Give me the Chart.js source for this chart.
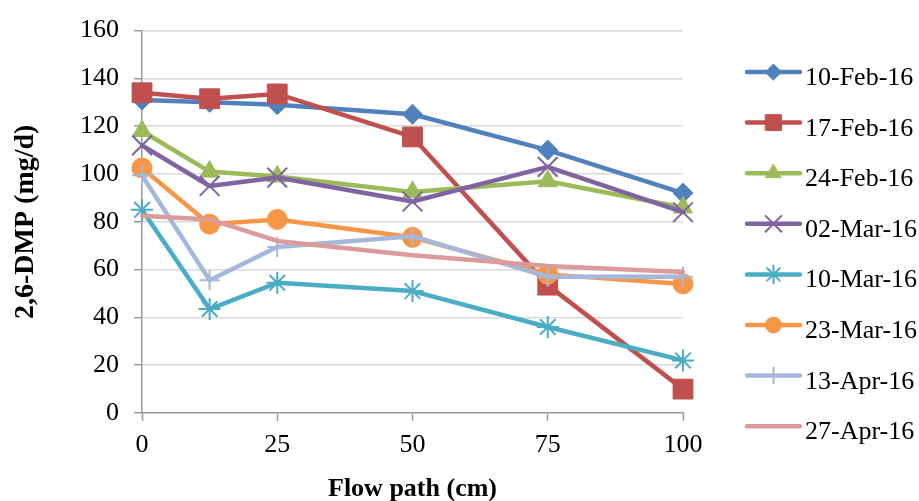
<!DOCTYPE html>
<html>
<head>
<meta charset="utf-8">
<script src="https://cdn.jsdelivr.net/npm/chart.js@4.4.1/dist/chart.umd.min.js"></script>
<style>
  html, body { margin: 0; padding: 0; background: #ffffff; }
  #wrap { width: 919px; height: 501px; position: relative; }
</style>
</head>
<body>
<div id="wrap"><canvas id="c" width="919" height="501"></canvas></div>
<script>
// Sampling positions along the flow path (cm)
const flowPath = [0, 12.5, 25, 50, 75, 100];
const xTicks = [0, 25, 50, 75, 100];

// 2,6-DMP load (mg/d) per sampling date
const dates = ['10-Feb-16', '17-Feb-16', '24-Feb-16', '02-Mar-16',
               '10-Mar-16', '23-Mar-16', '13-Apr-16', '27-Apr-16'];
const feb10 = [131, 130, 129, 125, 110, 92];
const feb17 = [134, 131.5, 133.5, 115.5, 53.5, 10];
const feb24 = [118, 101, 99, 92.5, 97, 86];
const mar02 = [112, 95, 98.5, 88.5, 103, 84];
const mar10 = [85, 43.5, 54.5, 51, 36, 22];
const mar23 = [102.5, 79, 81, 73.5, 58, 54];
const apr13 = [99.5, 55.5, 69.5, 74, 57, 57];
const apr27 = [82.5, 81, 72, 66, 61.5, 59];

const seriesValues = [feb10, feb17, feb24, mar02, mar10, mar23, apr13, apr27];
const colors = ['#4F81BD', '#C0504D', '#9BBB59', '#8064A2',
                '#4BACC6', '#F79646', '#A5B8DB', '#DA9B9A'];
const markers = [
  { style: 'rectRot',  radius: 10, width: 1 },
  { style: 'rect',     radius: 14, width: 1 },
  { style: 'triangle', radius: 11, width: 1 },
  { style: 'crossRot', radius: 14, width: 2 },
  { style: 'star',     radius: 11, width: 2 },
  { style: 'circle',   radius: 10, width: 1 },
  { style: 'cross',    radius: 10, width: 2 },
  { style: 'circle',   radius: 0,  width: 0 }
];

const serif = '"Liberation Serif", "Times New Roman", serif';

const datasets = dates.map((label, i) => ({
  label: label,
  data: flowPath.map((x, j) => ({ x: x, y: seriesValues[i][j] })),
  borderColor: colors[i],
  backgroundColor: colors[i],
  pointBackgroundColor: colors[i],
  pointBorderColor: colors[i],
  pointStyle: markers[i].style,
  pointRadius: markers[i].radius,
  pointHoverRadius: markers[i].radius,
  pointBorderWidth: markers[i].width,
  borderWidth: 4.5,
  borderJoinStyle: 'round',
  borderCapStyle: 'round',
  tension: 0,
  clip: false,
  order: dates.length - i   // later series sit on top
}));

// Legend at the right: line sample with marker, then the date
const sideLegend = {
  id: 'sideLegend',
  afterDraw(chart) {
    const ctx = chart.ctx;
    const x0 = 747, x1 = 800, top = 72, step = 50.6;
    chart.data.datasets.forEach((ds, i) => {
      const y = top + i * step;
      ctx.save();
      ctx.strokeStyle = ds.borderColor;
      ctx.lineWidth = 4.5;
      ctx.lineCap = 'round';
      ctx.beginPath();
      ctx.moveTo(x0, y);
      ctx.lineTo(x1, y);
      ctx.stroke();
      if (ds.pointRadius > 0) {
        ctx.fillStyle = ds.pointBackgroundColor;
        ctx.strokeStyle = ds.pointBorderColor;
        ctx.lineWidth = ds.pointBorderWidth;
        Chart.helpers.drawPoint(ctx, {
          pointStyle: ds.pointStyle,
          radius: ds.pointRadius * 0.8,
          borderWidth: ds.pointBorderWidth,
          rotation: 0
        }, (x0 + x1) / 2, y);
      }
      ctx.fillStyle = '#000000';
      ctx.font = '26px ' + serif;
      ctx.textAlign = 'left';
      ctx.textBaseline = 'alphabetic';
      ctx.fillText(ds.label, 805, y + 13);
      ctx.restore();
    });
  }
};

new Chart(document.getElementById('c'), {
  type: 'line',
  data: { datasets: datasets },
  plugins: [sideLegend],
  options: {
    responsive: false,
    animation: false,
    devicePixelRatio: 1,
    layout: { padding: { top: 24, right: 236, bottom: 0, left: 0 } },
    plugins: {
      legend: { display: false },
      tooltip: { enabled: false },
      title: { display: false }
    },
    scales: {
      x: {
        type: 'linear',
        min: 0,
        max: 100,
        afterBuildTicks: s => { s.ticks = xTicks.map(v => ({ value: v })); },
        afterFit: s => { s.height = 88; },
        grid: { drawOnChartArea: false, drawTicks: true, tickLength: 8, tickColor: '#9a9a9a', tickWidth: 1.5 },
        border: { color: '#9a9a9a', width: 1.5 },
        ticks: { color: '#000', padding: 9, font: { family: serif, size: 26 }, maxRotation: 0 },
        title: {
          display: true,
          text: 'Flow path (cm)',
          color: '#000',
          font: { family: serif, size: 26, weight: 'bold', lineHeight: 0.9 },
          padding: { top: 0, bottom: 0 }
        }
      },
      y: {
        min: 0,
        max: 160,
        afterFit: s => { s.width = 142; },
        ticks: { stepSize: 20, color: '#000', padding: 15, font: { family: serif, size: 26 } },
        grid: { color: '#d9d9d9', lineWidth: 1.5, drawTicks: true, tickLength: 8, tickColor: '#9a9a9a', tickWidth: 1.5 },
        border: { color: '#9a9a9a', width: 1.5 },
        title: {
          display: true,
          text: '2,6-DMP (mg/d)',
          color: '#000',
          font: { family: serif, size: 28, weight: 'bold', lineHeight: 1.2 },
          padding: { top: 9, bottom: 0 }
        }
      }
    }
  }
});
</script>
</body>
</html>
